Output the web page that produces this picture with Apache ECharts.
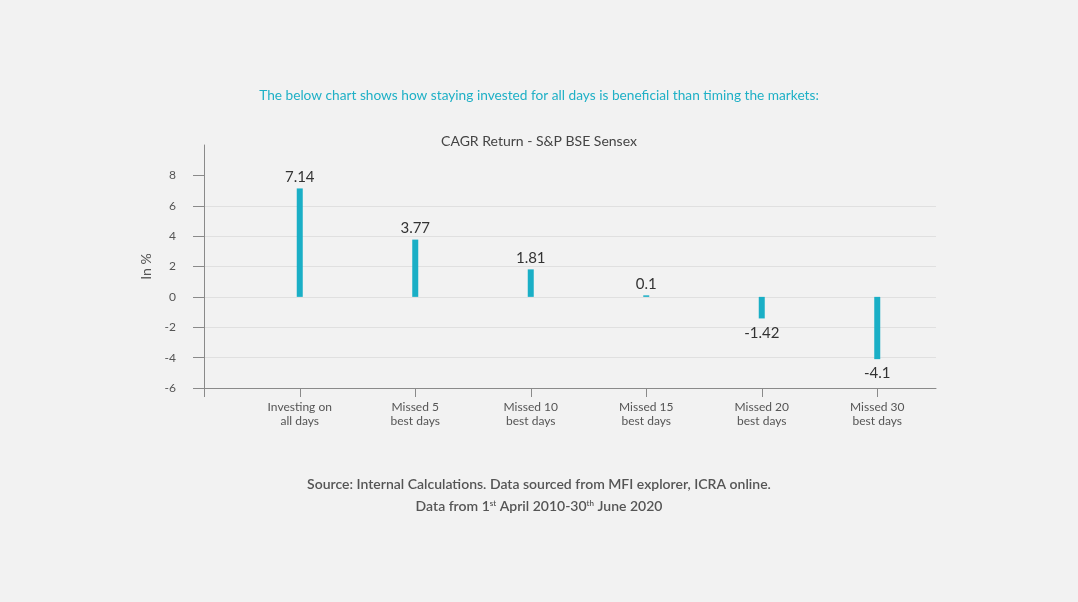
<!DOCTYPE html>
<html>
<head>
<meta charset="utf-8">
<title>CAGR Return - S&P BSE Sensex</title>
<script src="https://cdn.jsdelivr.net/npm/echarts@6/dist/echarts.min.js"></script>
<style>
  html, body { margin: 0; padding: 0; background: #f2f2f2; }
  #chart { width: 1078px; height: 602px; }
</style>
</head>
<body>
<div id="chart"></div>
<script>
// categories and CAGR values (%)
const categories = [
  'Investing on\nall days',
  'Missed 5\nbest days',
  'Missed 10\nbest days',
  'Missed 15\nbest days',
  'Missed 20\nbest days',
  'Missed 30\nbest days'
]
const cagrValues = [7.14, 3.77, 1.81, 0.1, -1.42, -4.1]
// y axis tick labels
const yTicks = [-6, -4, -2, 0, 2, 4, 6, 8]

const barColor = '#1aafc6'
const axisColor = '#8a8a8a'
const fontFamily = 'Lato, "Noto Sans", sans-serif'

const chart = echarts.init(document.getElementById('chart'))

// negative bars get their label underneath
const barData = cagrValues.map(v => ({
  value: v,
  label: v < 0 ? { position: 'bottom', distance: 7 } : { position: 'top', distance: 4 }
}))

const footStyle = {
  color: '#555',
  fontSize: 14,
  fontWeight: 600,
  fontFamily: fontFamily,
  rich: {
    sup: {
      fontSize: 8,
      fontWeight: 600,
      color: '#555',
      verticalAlign: 'top',
      padding: [0, 0, 7, 0]
    }
  }
}

const option = {
  backgroundColor: '#f2f2f2',
  textStyle: { fontFamily: fontFamily },
  title: [
    {
      text: 'The below chart shows how staying invested for all days is beneficial than timing the markets:',
      left: 'center',
      top: 84,
      textStyle: { color: '#1fb0c6', fontSize: 13.7, fontWeight: 'normal', fontFamily: fontFamily }
    },
    {
      text: 'CAGR Return - S&P BSE Sensex',
      left: 'center',
      top: 129,
      textStyle: { color: '#444', fontSize: 14, fontWeight: 'normal', fontFamily: fontFamily }
    },
    {
      text: 'Source: Internal Calculations. Data sourced from MFI explorer, ICRA online.',
      left: 'center',
      top: 472,
      textStyle: footStyle
    },
    {
      text: 'Data from 1{sup|st} April 2010-30{sup|th} June 2020',
      left: 'center',
      top: 494,
      textStyle: footStyle
    }
  ],
  grid: [
    // frame: y axis, grid lines, bottom line
    { left: 204, right: 142, top: 145, bottom: 214 },
    // bars
    { left: 242, right: 143, top: 145, bottom: 214 }
  ],
  xAxis: [
    {
      type: 'value',
      gridIndex: 0,
      min: 0,
      max: 1,
      axisLine: { show: true, onZero: false, lineStyle: { color: axisColor, width: 1 } },
      // little stub continuing the y axis below the bottom line
      axisTick: { show: true, length: 9, customValues: [0], lineStyle: { color: axisColor } },
      axisLabel: { show: false },
      splitLine: { show: false }
    },
    {
      type: 'category',
      gridIndex: 1,
      data: categories,
      axisLine: { show: false, onZero: false },
      axisTick: {
        show: true,
        alignWithLabel: true,
        length: 9,
        lineStyle: { color: axisColor }
      },
      axisLabel: {
        color: '#555',
        fontSize: 12,
        lineHeight: 14,
        margin: 12,
        fontFamily: fontFamily
      }
    }
  ],
  yAxis: [
    {
      type: 'value',
      gridIndex: 0,
      min: -6,
      max: 10,
      interval: 2,
      name: 'In %',
      nameLocation: 'middle',
      nameGap: 48,
      nameTextStyle: { color: '#555', fontSize: 14, fontFamily: fontFamily },
      axisLine: { show: true, lineStyle: { color: axisColor } },
      axisTick: {
        show: true,
        length: 11,
        customValues: yTicks,
        lineStyle: { color: axisColor }
      },
      axisLabel: {
        color: '#555',
        fontSize: 12,
        margin: 28,
        customValues: yTicks,
        fontFamily: fontFamily
      },
      splitLine: {
        show: true,
        showMaxLine: false,
        lineStyle: { color: '#e0e0e0' }
      }
    },
    {
      type: 'value',
      gridIndex: 1,
      min: -6,
      max: 10,
      interval: 2,
      show: false,
      splitLine: { show: false }
    }
  ],
  series: [
    {
      type: 'bar',
      xAxisIndex: 1,
      yAxisIndex: 1,
      barWidth: 6,
      data: barData,
      itemStyle: { color: barColor },
      label: {
        show: true,
        color: '#333',
        fontSize: 15,
        fontFamily: fontFamily
      }
    }
  ]
}

chart.setOption(option)
</script>
</body>
</html>
